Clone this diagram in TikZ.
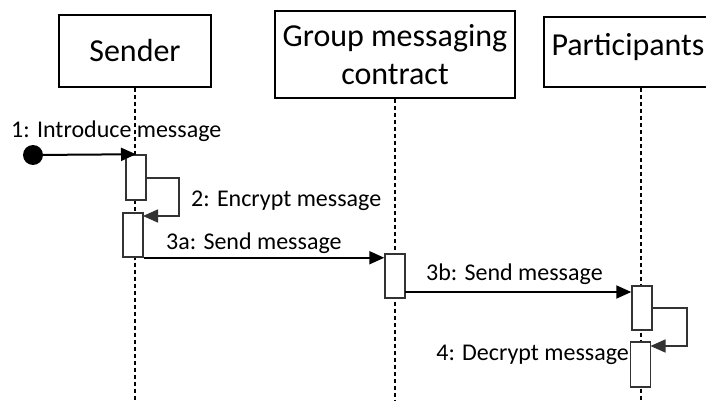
\documentclass[tikz,border=0pt]{standalone}
\usepackage{fontspec}
\setmainfont{Carlito}
\usetikzlibrary{arrows.meta}

\tikzset{
  headbox/.style={draw, line width=1.6pt, inner sep=0pt, align=center,
    font=\fontsize{32}{38}\selectfont},
  lifeline/.style={line width=2.3pt, dash pattern=on 4pt off 3pt},
  activation/.style={draw=black!80, line width=1.5pt, fill=white, inner sep=0pt,
    minimum width=20pt},
  msg/.style={line width=2pt, -{Triangle[length=15pt, width=13pt]}},
  selfmsg/.style={line width=1.6pt, draw=black!80, -{Triangle[length=15pt, width=13pt]}},
  msglabel/.style={inner sep=0pt, font=\fontsize{24}{29}\selectfont},
}

\begin{document}
\begin{tikzpicture}[x=1pt, y=-1pt]
  \useasboundingbox (0,0) rectangle (706,401);

  % lifeline heads
  \node[headbox, minimum width=152pt, minimum height=72pt, text depth=2pt]
    (sender) at (135,51) {Sender};
  \node[headbox, minimum width=240pt, minimum height=87pt]
    (contract) at (395,54.5) {Group messaging\\contract};
  \node[headbox, minimum width=168pt, minimum height=70pt, text depth=15pt]
    (parts) at (628,52) {Participants};

  % lifelines
  \coordinate (sEnd) at (135,401);
  \coordinate (cEnd) at (395,401);
  \coordinate (pEnd) at (641,401);
  \draw[lifeline] (sender.south) -- (sEnd);
  \draw[lifeline] (contract.south) -- (cEnd);
  \draw[lifeline] (parts.south -| pEnd) -- (pEnd);

  % activation bars
  \node[activation, minimum height=45pt] (s1) at (136,177.5) {};
  \node[activation, minimum height=44pt] (s2) at (133,235) {};
  \node[activation, minimum height=44pt] (c1) at (395,276) {};
  \node[activation, minimum height=44pt] (p1) at (642,308) {};
  \node[activation, minimum height=45pt] (p2) at (640.5,364.5) {};

  % 1: incoming message from the initial state
  \node[circle, fill=black, minimum size=20pt, inner sep=0pt] (start) at (33,155) {};
  \draw[msg] (start.center) -- (s1.north);
  \node[msglabel, anchor=base west] (l1) at (11,137.5) {1: Introduce message};

  % 2: self call on the sender
  \coordinate (s1out) at (146,178);
  \coordinate (s2in) at (143,216);
  \draw[selfmsg] (s1out) -- (179,178) -- (179,216) -- (s2in);
  \node[msglabel, anchor=base west] (l2) at (191,206) {2: Encrypt message};

  % 3a: sender to contract
  \draw[msg] (s2.south east) -- (s2.south east -| c1.west);
  \node[msglabel, anchor=base west] (l3a) at (166,249) {3a: Send message};

  % 3b: contract to participants
  \coordinate (c1out) at (405,292);
  \draw[msg] (c1out) -- (c1out -| p1.west);
  \node[msglabel, anchor=base west] (l3b) at (426,280) {3b: Send message};

  % 4: self call on the participants
  \coordinate (p1out) at (652,308);
  \coordinate (p2in) at (650.5,346);
  \draw[selfmsg] (p1out) -- (687,308) -- (687,346) -- (p2in);
  \node[msglabel, anchor=base east] (l4) at (629,360) {4: Decrypt message};
\end{tikzpicture}
\end{document}
